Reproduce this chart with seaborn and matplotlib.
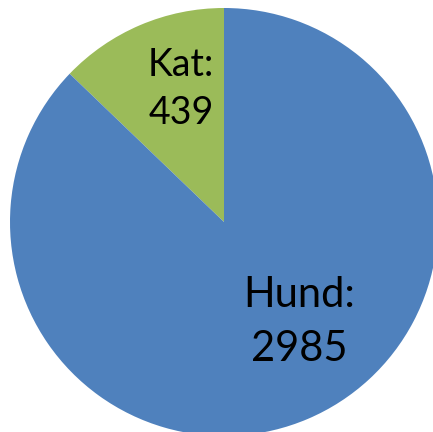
import matplotlib
matplotlib.use("Agg")
import matplotlib.pyplot as plt
import seaborn as sns

sns.set_theme(style="white")
plt.rcParams['font.family'] = ['Lato', 'DejaVu Sans']

categories = ["Kat", "Hund"]
values = [439, 2985]
colors = ["#9BBB59", "#4F81BD"]

W, H = 433, 432
cx, cy, R = 224, 222, 214

fig = plt.figure(figsize=(W / 100, H / 100), dpi=100)
ax = fig.add_axes([0, 0, 1, 1])
ax.pie(values, colors=colors, startangle=90, counterclock=True, radius=1,
       wedgeprops=dict(linewidth=0))
ax.set_xlim(-cx / R, (W - cx) / R)
ax.set_ylim(-(H - cy) / R, cy / R)
ax.set_aspect("auto")
ax.axis("off")

def px(x, y):
    return (x - cx) / R, (cy - y) / R

label_pos = {"Kat": (181, 89, 27, 1.38), "Hund": (299, 322, 30, 1.52)}
for cat, val in zip(categories, values):
    x, y, fs, ls = label_pos[cat]
    tx, ty = px(x, y)
    ax.text(tx, ty, f"{cat}:\n{val}", ha="center", va="center", fontsize=fs,
            color="black", linespacing=ls)

fig.savefig("out.png", dpi=100)
